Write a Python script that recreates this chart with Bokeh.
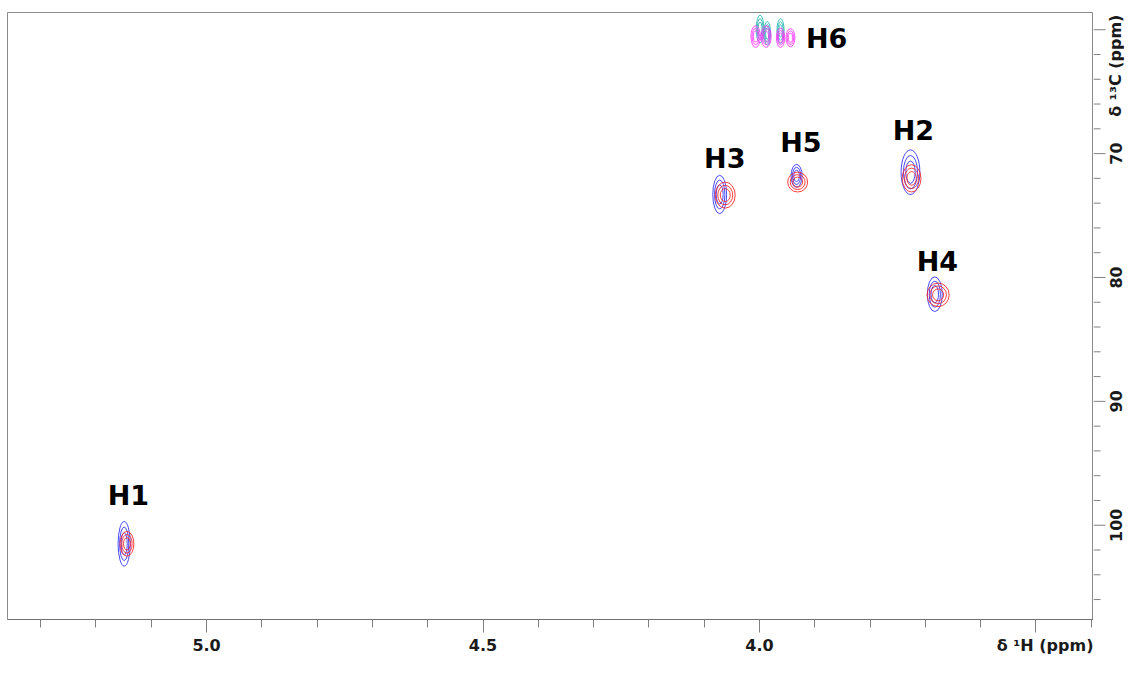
import math
from bokeh.plotting import figure
from bokeh.layouts import row
from bokeh.models import Range1d, FixedTicker, ColumnDataSource
from bokeh.core.properties import value
from bokeh.embed import file_html
from bokeh.resources import INLINE

# ---- data: peak centres (1H ppm, 13C ppm) and contour extents (ppm) ----
blue_x = [5.149, 4.072, 3.933, 3.727, 3.683]
blue_y = [101.5, 73.3, 71.8, 71.5, 81.35]
blue_w = [0.022, 0.025, 0.020, 0.034, 0.027]
blue_h = [3.6, 3.1, 1.85, 3.6, 2.8]

red_x = [5.144, 4.062, 3.931, 3.725, 3.677]
red_y = [101.5, 73.35, 72.3, 72.0, 81.4]
red_w = [0.025, 0.036, 0.036, 0.034, 0.040]
red_h = [2.0, 2.1, 1.6, 2.2, 1.9]

cyan_x = [3.999, 3.986, 3.962]
cyan_y = [59.95, 60.3, 60.1]
cyan_w = [0.014, 0.012, 0.013]
cyan_h = [2.25, 1.9, 2.0]

mag_x = [4.007, 3.988, 3.962, 3.944]
mag_y = [60.55, 60.55, 60.65, 60.65]
mag_w = [0.017, 0.018, 0.015, 0.016]
mag_h = [1.75, 1.75, 1.55, 1.45]

contour_levels = [1.0, 0.75, 0.5]

label_text = ["H1", "H2", "H3", "H4", "H5", "H6"]
label_x = [5.1415, 3.7217, 4.0628, 3.6783, 3.9253, 3.8787]
label_y = [97.58, 68.1, 70.36, 78.74, 69.07, 60.7]

x_major = [5.0, 4.5, 4.0, 3.5]
x_tick_labels = ["5.0", "4.5", "4.0", "δ ¹H (ppm)"]
x_minor = [5.3, 5.2, 5.1, 5.0, 4.9, 4.8, 4.7, 4.6, 4.5, 4.4, 4.3, 4.2, 4.1, 4.0, 3.9, 3.8, 3.7, 3.6, 3.5, 3.4]
y_major = [60, 70, 80, 90, 100]
y_minor = [62, 64, 66, 68, 72, 74, 76, 78, 82, 84, 86, 88, 92, 94, 96, 98, 102, 104, 106]
y_label_text = ["δ ¹³C (ppm)", "70", "80", "90", "100"]
y_label_pos = [62.9, 70, 80, 90, 100]

X_START, X_END = 5.360, 3.396
Y_TOP, Y_BOTTOM = 58.61, 107.61

NBSP = "\u00a0"
FONT = "DejaVu Sans"
TICK_COLOR = "#808080"

p = figure(width=1093, height=657, output_backend="svg", toolbar_location=None,
           x_range=Range1d(X_START, X_END), y_range=Range1d(Y_BOTTOM, Y_TOP),
           y_axis_location=None,
           min_border_left=7, min_border_top=12, min_border_right=0, min_border_bottom=36)
p.grid.visible = False
p.outline_line_color = "#8a8a8a"
p.background_fill_color = "white"
p.border_fill_color = "white"


def draw(xs, ys, ws, hs, color):
    for lv in contour_levels:
        src = ColumnDataSource(dict(x=xs, y=ys, w=[w * lv for w in ws], h=[h * lv for h in hs]))
        p.ellipse(x="x", y="y", width="w", height="h", source=src,
                  fill_color=None, line_color=color, line_width=1, line_alpha=0.85)


draw(blue_x, blue_y, blue_w, blue_h, "#2a2aff")
draw(red_x, red_y, red_w, red_h, "#ff2020")
draw(cyan_x, cyan_y, cyan_w, cyan_h, "#22b0b0")
draw(mag_x, mag_y, mag_w, mag_h, "#ff30ff")

lsrc = ColumnDataSource(dict(x=label_x, y=label_y, t=label_text))
p.text(x="x", y="y", text="t", source=lsrc, text_font=value(FONT), text_font_style="bold",
       text_font_size="27px", text_align="center", text_baseline="middle", text_color="black")

# x axis: the unit label takes the place of the last tick label (shifted with padding)
x_over = {t: l for t, l in zip(x_major, x_tick_labels)}
x_over[x_major[-1]] = NBSP * 7 + x_tick_labels[-1]
xa = p.xaxis[0]
xa.ticker = FixedTicker(ticks=x_major, minor_ticks=x_minor)
xa.major_label_overrides = x_over
xa.major_tick_out = 13
xa.major_tick_in = 0
xa.minor_tick_out = 8
xa.minor_tick_in = 0
xa.major_label_standoff = 3
xa.axis_line_color = "#707070"
xa.major_tick_line_color = TICK_COLOR
xa.minor_tick_line_color = TICK_COLOR
xa.major_label_text_font = FONT
xa.major_label_text_font_style = "bold"
xa.major_label_text_font_size = "16px"
xa.major_label_text_color = "#1a1a1a"

# right-hand 13C scale: ticks and rotated labels in a narrow strip sharing the y range
side = figure(width=31, height=657, output_backend="svg", toolbar_location=None,
              x_range=Range1d(0, 31), y_range=p.y_range,
              x_axis_location=None, y_axis_location=None,
              min_border_left=0, min_border_right=0, min_border_top=12, min_border_bottom=36)
side.grid.visible = False
side.outline_line_color = None
side.background_fill_color = "white"
side.border_fill_color = "white"

side.segment(x0=[0] * len(y_major), y0=y_major, x1=[12] * len(y_major), y1=y_major,
             line_color=TICK_COLOR, line_width=1)
side.segment(x0=[0] * len(y_minor), y0=y_minor, x1=[7] * len(y_minor), y1=y_minor,
             line_color=TICK_COLOR, line_width=1)

ysrc = ColumnDataSource(dict(x=[22] * len(y_label_pos), y=y_label_pos, t=y_label_text))
side.text(x="x", y="y", text="t", source=ysrc, angle=math.pi / 2,
          text_font=value(FONT), text_font_style="bold", text_font_size="16px",
          text_align="center", text_baseline="middle", text_color="#1a1a1a")

layout = row(p, side, spacing=0)
open("out.html", "w").write(file_html(layout, INLINE))
